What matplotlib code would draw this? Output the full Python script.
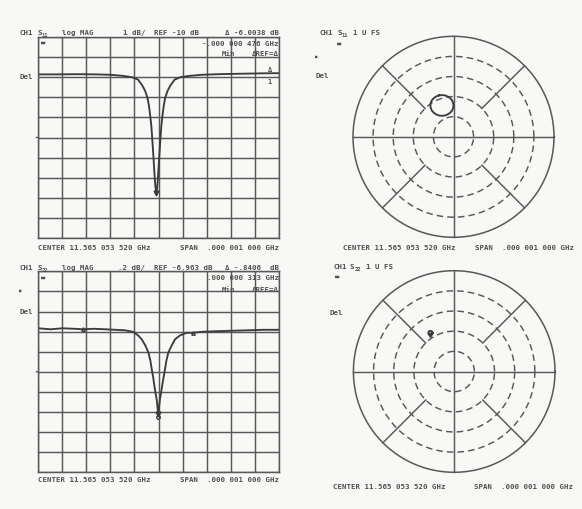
import matplotlib
matplotlib.use("Agg")
import matplotlib.pyplot as plt
import numpy as np

# ---- data ----
# S11 log mag trace: frequency offset from center (Hz) and dB
s11_freq = [-500, -420, -340, -260, -200, -150, -110, -85, -67, -55, -46, -40, -35, -30,
            -26, -21, -17, -13, -9, -5, -1, 3, 8, 12, 17, 22, 28, 37, 49, 67, 91, 131,
            181, 250, 330, 420, 500]
s11_db = [-6.86, -6.86, -6.85, -6.86, -6.88, -6.93, -7.00, -7.12, -7.42, -7.70, -8.02, -8.40,
          -8.86, -9.40, -10.06, -10.97, -11.77, -12.44, -12.78, -12.44, -11.77, -10.97, -10.06,
          -9.40, -8.86, -8.40, -8.02, -7.70, -7.42, -7.12, -7.00, -6.93, -6.88, -6.85, -6.83,
          -6.81, -6.80]

# S22 log mag trace
s22_freq = [-500, -450, -400, -350, -313, -270, -220, -180, -140, -105, -85, -70, -55, -42,
            -34, -28, -22, -17, -12, -7.5, -4, -1, 2, 6, 10, 15, 21, 27, 33, 41, 55, 69, 90,
            117, 143, 180, 230, 300, 370, 440, 500]
s22_db = [-6.53, -6.54, -6.53, -6.535, -6.54, -6.535, -6.54, -6.545, -6.55, -6.566, -6.60,
          -6.639, -6.70, -6.771, -6.85, -6.938, -7.02, -7.105, -7.18, -7.237, -7.32, -7.38,
          -7.32, -7.237, -7.18, -7.105, -7.02, -6.938, -6.85, -6.771, -6.70, -6.639, -6.60,
          -6.575, -6.575, -6.565, -6.56, -6.555, -6.55, -6.545, -6.545]

# S11 polar trace (real, imag), full scale 1 unit
s11_re = [-0.145, -0.173, -0.196, -0.215, -0.226, -0.230, -0.226, -0.215, -0.196, -0.173,
          -0.145, -0.115, -0.085, -0.058, -0.034, -0.015, -0.004, 0.000, -0.004, -0.015,
          -0.034, -0.058, -0.085, -0.115, -0.145]
s11_im = [0.412, 0.401, 0.385, 0.364, 0.339, 0.312, 0.285, 0.260, 0.239, 0.223, 0.212, 0.209,
          0.212, 0.223, 0.239, 0.260, 0.285, 0.312, 0.339, 0.364, 0.385, 0.401, 0.412, 0.415,
          0.412]

# S22 polar trace (tiny loop)
s22_re = [-0.2145, -0.2208, -0.236, -0.2512, -0.2575, -0.2512, -0.236, -0.2208, -0.2145]
s22_im = [0.382, 0.3972, 0.4035, 0.3972, 0.382, 0.3668, 0.3605, 0.3668, 0.382]

W, H = 582, 510
BG = "#f8f8f6"
GRID = "#585858"
TRACE = "#3c3c3c"
TXT = "#505050"
FONT = "DejaVu Sans Mono"

fig = plt.figure(figsize=(W / 100, H / 100), dpi=100, facecolor=BG)


def px_axes(x0, y0, x1, y1):
    return fig.add_axes([x0 / W, 1 - y1 / H, (x1 - x0) / W, (y1 - y0) / H])


def txt(x, y, s, size=5.3, ha="left", weight="bold"):
    fig.text(x / W, 1 - y / H, s, fontsize=size, ha=ha, va="center",
             family=FONT, color=TXT, fontweight=weight)


def rect_panel(box, ylim):
    ax = px_axes(*box)
    ax.set_facecolor(BG)
    ax.set_xlim(-500, 500)
    ax.set_ylim(*ylim)
    ax.set_xticks(np.linspace(-500, 500, 11))
    ax.set_yticks(np.linspace(ylim[0], ylim[1], 11))
    ax.grid(True, color=GRID, lw=1.05)
    ax.tick_params(length=0, labelbottom=False, labelleft=False)
    for sp in ax.spines.values():
        sp.set_color(GRID)
        sp.set_linewidth(1.05)
    # reference position tick on the left edge
    ax.annotate("", xy=(-500, sum(ylim) / 2), xytext=(-520, sum(ylim) / 2),
                annotation_clip=False, arrowprops=dict(arrowstyle="-", color=GRID, lw=1))
    return ax


def polar_panel(cx, cy, r):
    half = r * 1.03
    ax = px_axes(cx - half, cy - half, cx + half, cy + half)
    ax.set_xlim(-1.03, 1.03)
    ax.set_ylim(-1.03, 1.03)
    ax.axis("off")
    th = np.linspace(0, 2 * np.pi, 361)
    ax.plot(np.cos(th), np.sin(th), color=GRID, lw=1.1)
    for rr in [0.2, 0.4, 0.6, 0.8]:
        ax.plot(rr * np.cos(th), rr * np.sin(th), color=GRID, lw=1.05, ls=(0, (4.5, 2.8)))
    ax.plot([-1, 1], [0, 0], color=GRID, lw=1.05)
    ax.plot([0, 0], [-1, 1], color=GRID, lw=1.05)
    for a in [45, 135, 225, 315]:
        c, s = np.cos(np.radians(a)), np.sin(np.radians(a))
        ax.plot([0.4 * c, c], [0.4 * s, s], color=GRID, lw=1.05)
    return ax


# ---- top left: S11 log MAG ----
ax1 = rect_panel((38.3, 38, 278.7, 239), (-15, -5))
ax1.plot(s11_freq, s11_db, color=TRACE, lw=1.35)
ax1.plot([s11_freq[18]], [s11_db[18]], marker="v", ms=3.5, color=TRACE)
txt(270, 70.5, "Δ", size=5, ha="center")
txt(270, 82, "1", size=5, ha="center")

txt(20, 33, "CH1")
txt(37, 33, "S")
txt(41.5, 35.5, "11", size=4)
txt(62, 33, "log MAG")
txt(123, 33, "1 dB/")
txt(154, 33, "REF -10 dB")
txt(279, 33, "Δ -6.0038 dB", ha="right")
txt(279, 43.5, "-.000 000 476 GHz", ha="right")
txt(222, 54.5, "Min")
txt(279, 54.5, "ΔREF=Δ", ha="right")
txt(41, 43, "■■", size=3.2)
txt(20, 77, "Del")
txt(38, 247.7, "CENTER 11.565 053 520 GHz")
txt(279, 247.7, "SPAN  .000 001 000 GHz", ha="right")

# ---- bottom left: S22 log MAG ----
ax2 = rect_panel((38.3, 272.3, 278.7, 473.3), (-7.963, -5.963))
ax2.plot(s22_freq, s22_db, color=TRACE, lw=1.35)
ax2.plot([s22_freq[21]], [s22_db[21]], marker="v", ms=3.5, color=TRACE)
ax2.plot([s22_freq[21]], [s22_db[21] - 0.035], marker="o", ms=2.5, mfc="none", color=TRACE)
ax2.plot([s22_freq[4]], [s22_db[4]], marker="^", ms=2.5, mfc="none", color=TRACE)
ax2.plot([s22_freq[34]], [s22_db[34]], marker="^", ms=2.5, mfc="none", color=TRACE)

txt(20, 267.7, "CH1")
txt(37, 267.7, "S")
txt(41.5, 270.2, "22", size=4)
txt(62, 267.7, "log MAG")
txt(118, 267.7, ".2 dB/")
txt(154, 267.7, "REF -6.963 dB")
txt(279, 267.7, "Δ -.8406  dB", ha="right")
txt(279, 278, ".000 000 313 GHz", ha="right")
txt(222, 289.5, "Min")
txt(279, 289.5, "ΔREF=Δ", ha="right")
txt(41, 277.5, "■■", size=3.2)
txt(19, 291, "■", size=3)
txt(20, 311.5, "Del")
txt(38, 480.5, "CENTER 11.565 053 520 GHz")
txt(279, 480.5, "SPAN  .000 001 000 GHz", ha="right")

# ---- top right: S11 polar ----
p1 = polar_panel(453.5, 137.8, 100.5)
p1.plot(s11_re, s11_im, color=TRACE, lw=1.35)
txt(320, 33, "CH1")
txt(337, 33, "S")
txt(341.5, 35.5, "11", size=4)
txt(353, 33, "1 U FS")
txt(337, 43.5, "■■", size=3.2)
txt(315, 56.5, "■", size=3)
txt(316, 76, "Del")
txt(343, 248, "CENTER 11.565 053 520 GHz")
txt(574, 248, "SPAN  .000 001 000 GHz", ha="right")

# ---- bottom right: S22 polar ----
p2 = polar_panel(454.2, 372.5, 100.8)
p2.plot(s22_re, s22_im, color=TRACE, lw=1.4)
p2.plot([s22_re[6]], [s22_im[6]], marker="v", ms=3, color=TRACE)
txt(333, 266.7, "CH1")
txt(350, 266.7, "S")
txt(354.5, 269.2, "22", size=4)
txt(366, 266.7, "1 U FS")
txt(335, 277, "■■", size=3.2)
txt(330, 313, "Del")
txt(333, 487, "CENTER 11.565 053 520 GHz")
txt(573, 487, "SPAN  .000 001 000 GHz", ha="right")

fig.savefig("out.png", dpi=100, facecolor=BG)
